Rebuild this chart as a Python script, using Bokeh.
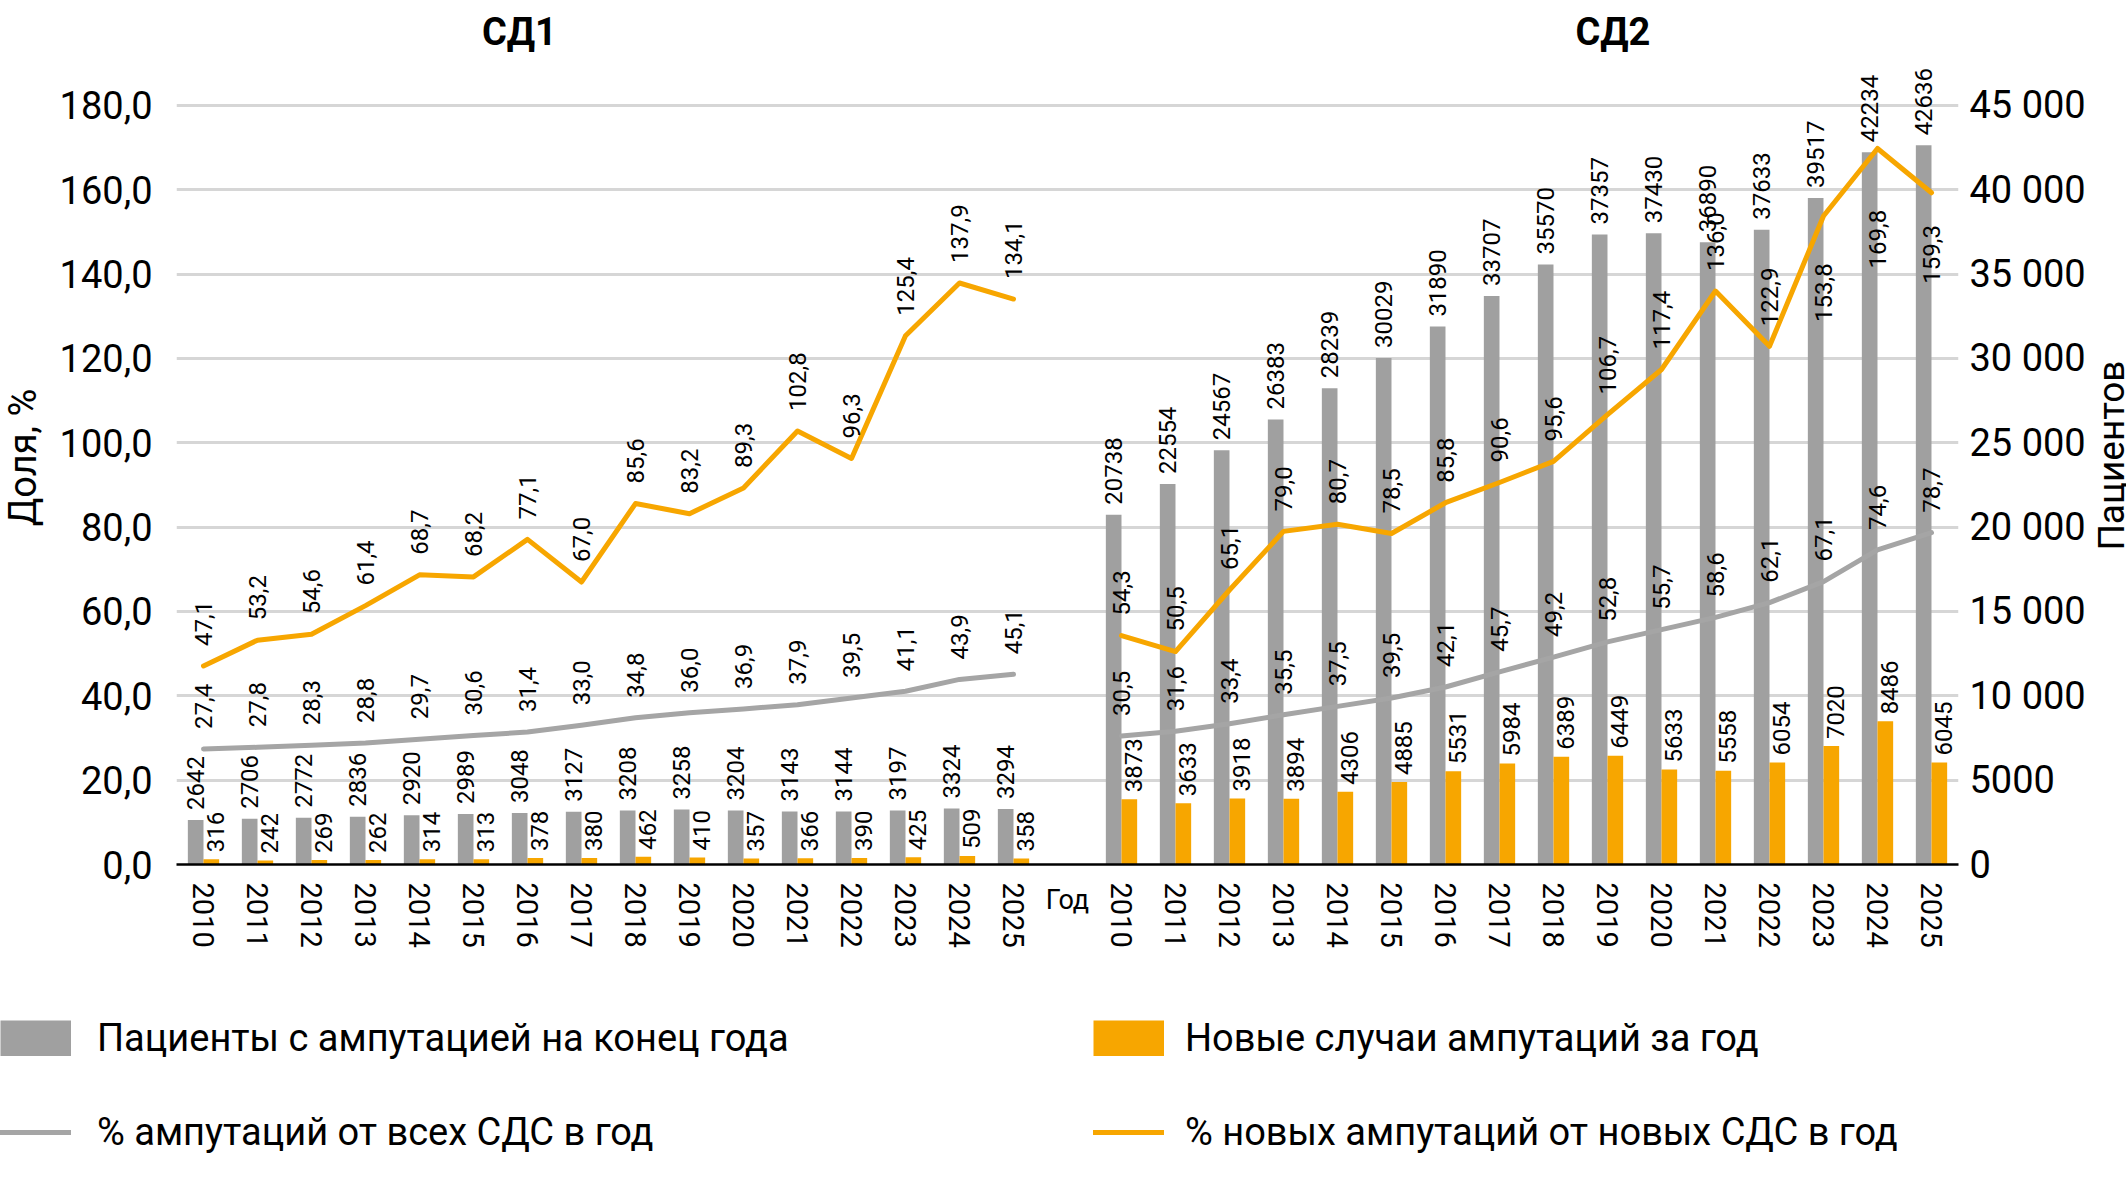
import math
import numpy as np
from bokeh.plotting import figure
from bokeh.layouts import column, row
from bokeh.models import (Range1d, LinearAxis, FixedTicker, Label, Legend,
                          LegendItem, ColumnDataSource)
from bokeh.core.properties import value
from bokeh.transform import dodge
from bokeh.embed import file_html
from bokeh.resources import INLINE

# ---------------- data ----------------
years = [str(y) for y in range(2010, 2026)]
group_titles = ["СД1", "СД2"]
gap_label = "Год"

t1_patients = [2642, 2706, 2772, 2836, 2920, 2989, 3048, 3127, 3208, 3258, 3204, 3143, 3144, 3197, 3324, 3294]
t1_new = [316, 242, 269, 262, 314, 313, 378, 380, 462, 410, 357, 366, 390, 425, 509, 358]
t1_pct_all = [27.4, 27.8, 28.3, 28.8, 29.7, 30.6, 31.4, 33.0, 34.8, 36.0, 36.9, 37.9, 39.5, 41.1, 43.9, 45.1]
t1_pct_new = [47.1, 53.2, 54.6, 61.4, 68.7, 68.2, 77.1, 67.0, 85.6, 83.2, 89.3, 102.8, 96.3, 125.4, 137.9, 134.1]

t2_patients = [20738, 22554, 24567, 26383, 28239, 30029, 31890, 33707, 35570, 37357, 37430, 36890, 37633, 39517, 42234, 42636]
t2_new = [3873, 3633, 3918, 3894, 4306, 4885, 5531, 5984, 6389, 6449, 5633, 5558, 6054, 7020, 8486, 6045]
t2_pct_all = [30.5, 31.6, 33.4, 35.5, 37.5, 39.5, 42.1, 45.7, 49.2, 52.8, 55.7, 58.6, 62.1, 67.1, 74.6, 78.7]
t2_pct_new = [54.3, 50.5, 65.1, 79.0, 80.7, 78.5, 85.8, 90.6, 95.6, 106.7, 117.4, 136.0, 122.9, 153.8, 169.8, 159.3]

left_ticks = [0, 20, 40, 60, 80, 100, 120, 140, 160, 180]
right_ticks = [0, 5000, 10000, 15000, 20000, 25000, 30000, 35000, 40000, 45000]

legend_labels = ["Пациенты с ампутацией на конец года",
                 "% ампутаций от всех СДС в год",
                 "Новые случаи ампутаций за год",
                 "% новых ампутаций от новых СДС в год"]
y_title_left = "Доля, %"
y_title_right = "Пациентов"

# ---------------- style ----------------
GRAY = "#a0a0a0"
GRAY_LINE = "#a5a5a5"
ORANGE = "#f7a600"
GRID = "#d6d6d6"
FONT = "Roboto"

# label offsets (px, positive = down) of the new-amputation % labels
t1_newp_shift = [-20] * 16
t2_newp_shift = [-20] * 13 + [106, 120, 91]

FRAME_W = 1782
LEFT_W, P_LEFT = 56, 116
P_RIGHT, RIGHT_W = 122, 50
TOTAL_W = LEFT_W + P_LEFT + FRAME_W + P_RIGHT + RIGHT_W
FRAME_H = 864
BOTTOM_H = 120
MID_H = FRAME_H + BOTTOM_H
LEG_H = 205

n = len(years)
PX_PER_UNIT = 4.2167
Y_END = FRAME_H / PX_PER_UNIT
RATIO = right_ticks[-1] / left_ticks[-1]


def fmt_pct(v):
    return f"{v:.1f}".replace(".", ",")


def fmt_pat(v):
    return f"{v:,}".replace(",", " ") if v >= 10000 else str(v)


x1 = np.arange(n)
x2 = x1 + n + 1
xr = Range1d(-0.5, 2 * n + 0.5)


def strip(w, h, **kw):
    f = figure(frame_width=w, frame_height=h, x_axis_type=None, y_axis_type=None,
               output_backend="svg", toolbar_location=None, **kw)
    f.outline_line_color = None
    f.background_fill_color = "white"
    f.border_fill_color = "white"
    return f


# ---------- axis-title strips ----------
pleft = strip(LEFT_W, MID_H, x_range=Range1d(0, LEFT_W), y_range=Range1d(0, MID_H), min_border=0)
pleft.add_layout(Label(x=22.8, y=527, text=y_title_left, angle=math.pi / 2, text_font=FONT,
                       text_font_size="38px", text_align="center", text_baseline="middle",
                       text_color="black"))
pr = strip(RIGHT_W, MID_H, x_range=Range1d(0, RIGHT_W), y_range=Range1d(0, MID_H), min_border=0)
pr.add_layout(Label(x=23, y=529, text=y_title_right, angle=math.pi / 2, text_font=FONT,
                    text_font_size="37px", text_align="center", text_baseline="middle",
                    text_color="black"))

# ---------- main chart ----------
p = figure(frame_width=FRAME_W, frame_height=FRAME_H, x_range=xr, y_range=Range1d(0, Y_END),
           output_backend="svg", toolbar_location=None,
           min_border_left=P_LEFT, min_border_right=P_RIGHT,
           min_border_top=0, min_border_bottom=BOTTOM_H)
p.outline_line_color = None
p.background_fill_color = "white"
p.border_fill_color = "white"
p.extra_y_ranges = {"pat": Range1d(0, Y_END * RATIO)}

# group titles
for t, tx in zip(group_titles, [5.85, 26.1]):
    p.add_layout(Label(x=tx, y=197.4, text=t, text_font=FONT, text_font_size="38px",
                       text_font_style="bold", text_align="center", text_baseline="middle",
                       text_color="black"))

p.xaxis.ticker = FixedTicker(ticks=list(x1) + list(x2))
p.xaxis.major_label_overrides = {int(i): y for i, y in zip(x1, years)} | {int(i): y for i, y in zip(x2, years)}
p.xaxis.major_label_orientation = "vertical"
p.xaxis.major_label_text_font = FONT
p.xaxis.major_label_text_font_size = "29px"
p.xaxis.major_label_text_color = "black"
p.xaxis.major_label_standoff = 12
p.xaxis.axis_line_color = "black"
p.xaxis.axis_line_width = 2.5
p.xaxis.major_tick_line_color = None
p.xaxis.minor_tick_line_color = None
p.xaxis.axis_label = gap_label
p.xaxis.axis_label_text_font = FONT
p.xaxis.axis_label_text_font_size = "27px"
p.xaxis.axis_label_text_font_style = "normal"
p.xaxis.axis_label_text_color = "black"
p.xaxis.axis_label_standoff = -67

p.yaxis.ticker = FixedTicker(ticks=left_ticks)
p.yaxis.major_label_overrides = {t: fmt_pct(t) for t in left_ticks}
p.yaxis.major_label_text_font = FONT
p.yaxis.major_label_text_font_size = "38px"
p.yaxis.major_label_text_color = "black"
p.yaxis.major_label_standoff = 18
p.yaxis.axis_line_color = None
p.yaxis.major_tick_line_color = None
p.yaxis.minor_tick_line_color = None

ax_r = LinearAxis(y_range_name="pat", ticker=FixedTicker(ticks=right_ticks),
                  major_label_overrides={t: fmt_pat(t) for t in right_ticks},
                  major_label_text_font=FONT, major_label_text_font_size="38px",
                  major_label_text_color="black", major_label_standoff=5,
                  axis_line_color=None, major_tick_line_color=None, minor_tick_line_color=None)
p.add_layout(ax_r, "right")

p.xgrid.grid_line_color = None
p.ygrid.ticker = FixedTicker(ticks=left_ticks[1:])
p.ygrid.grid_line_color = GRID
p.ygrid.grid_line_width = 3

lab_common = dict(text_font=value(FONT), text_font_size="24px", text_color="black",
                  angle=math.pi / 2, text_align="left", text_baseline="middle")

for xs, pats, news, pall, pnew, shift in [(x1, t1_patients, t1_new, t1_pct_all, t1_pct_new, t1_newp_shift),
                                          (x2, t2_patients, t2_new, t2_pct_all, t2_pct_new, t2_newp_shift)]:
    src = ColumnDataSource(dict(
        x=xs, patients=pats, new=news, pct_all=pall, pct_new=pnew, shift=shift,
        l_pat=[str(v) for v in pats], l_new=[str(v) for v in news],
        l_all=[fmt_pct(v) for v in pall], l_newp=[fmt_pct(v) for v in pnew]))
    p.vbar(x=dodge("x", -0.145), top="patients", width=0.29, source=src,
           y_range_name="pat", fill_color=GRAY, line_color=None)
    p.vbar(x=dodge("x", 0.145), top="new", width=0.29, source=src,
           y_range_name="pat", fill_color=ORANGE, line_color=None)
    p.line("x", "pct_all", source=src, line_color=GRAY_LINE, line_width=5,
           line_join="round", line_cap="round")
    p.line("x", "pct_new", source=src, line_color=ORANGE, line_width=5,
           line_join="round", line_cap="round")
    p.text(x=dodge("x", -0.145), y="patients", text="l_pat", source=src,
           y_range_name="pat", y_offset=-10, **lab_common)
    p.text(x=dodge("x", 0.145), y="new", text="l_new", source=src,
           y_range_name="pat", y_offset=-7, x_offset=4, **lab_common)
    p.text(x="x", y="pct_all", text="l_all", source=src, y_offset=-20, **lab_common)
    p.text(x="x", y="pct_new", text="l_newp", source=src, y_offset="shift", **lab_common)

# ---------- legend strip ----------
pl = strip(TOTAL_W, LEG_H, x_range=Range1d(0, TOTAL_W), y_range=Range1d(0, LEG_H), min_border=0)
nan = [float("nan")]
sw_gray_bar = pl.line(x=nan, y=nan, line_color=GRAY, line_width=36, line_cap="butt")
sw_gray_line = pl.line(x=nan, y=nan, line_color=GRAY_LINE, line_width=5, line_cap="round")
sw_or_bar = pl.line(x=nan, y=nan, line_color=ORANGE, line_width=36, line_cap="butt")
sw_or_line = pl.line(x=nan, y=nan, line_color=ORANGE, line_width=5, line_cap="round")

leg_common = dict(orientation="vertical", glyph_width=71, glyph_height=36, spacing=50,
                  padding=0, margin=0, border_line_color=None, background_fill_color=None,
                  label_text_font=FONT, label_text_font_size="38px",
                  label_text_color="black")
leg1 = Legend(items=[LegendItem(label=legend_labels[0], renderers=[sw_gray_bar]),
                     LegendItem(label=legend_labels[1], renderers=[sw_gray_line])],
              location=(0, 35), label_standoff=26, **leg_common)
leg2 = Legend(items=[LegendItem(label=legend_labels[2], renderers=[sw_or_bar]),
                     LegendItem(label=legend_labels[3], renderers=[sw_or_line])],
              location=(1093, 35), label_standoff=21, **leg_common)
pl.add_layout(leg1)
pl.add_layout(leg2)

layout = column(row(pleft, p, pr, spacing=0), pl, spacing=0)
open("out.html", "w").write(file_html(layout, INLINE))
